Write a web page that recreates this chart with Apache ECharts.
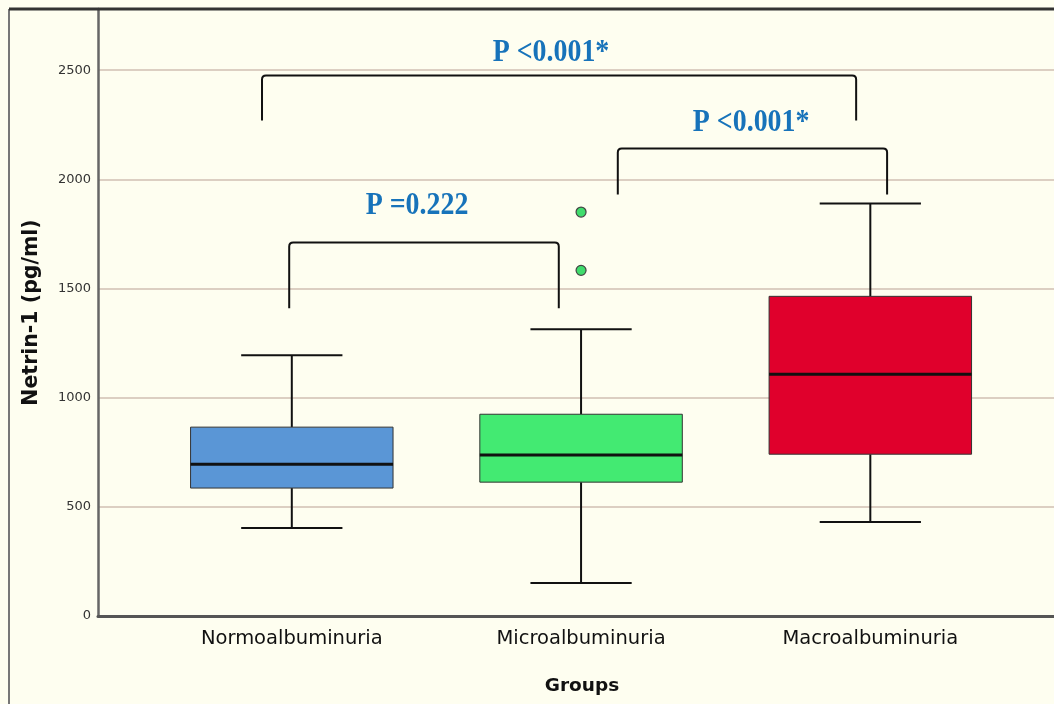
<!DOCTYPE html>
<html><head><meta charset="utf-8">
<script src="https://cdn.jsdelivr.net/npm/echarts@6/dist/echarts.min.js"></script>
<style>html,body{margin:0;padding:0;background:#FEFEF0;} #c{width:1054px;height:704px;}</style>
</head><body><div id="c"></div>
<script>
// ---- data ----
const categories = ['Normoalbuminuria', 'Microalbuminuria', 'Macroalbuminuria'];
const categoryPositions = [1, 2, 3];
const whiskerLow  = [403, 151, 430];
const q1          = [586, 613, 741];
const median      = [695, 737, 1107];
const q3          = [865, 924, 1464];
const whiskerHigh = [1194, 1313, 1889];
const outlierGroup = [2, 2];
const outlierValue = [1850, 1583];
const yTicks = [0, 500, 1000, 1500, 2000, 2500];
// significance brackets
const bracketLeft   = [0.991, 2.127, 0.897];
const bracketRight  = [1.923, 3.058, 2.951];
const bracketTop    = [1711, 2141, 2475];
const bracketBottom = [1409, 1930, 2269];
const pLabels = ['P =0.222', 'P <0.001*', 'P <0.001*'];
const pLabelX = [1.433, 2.588, 1.896];
const pLabelY = [1878, 2258, 2578];

// ---- style ----
const boxColors = ['#5A96D6', '#43EA72', '#E0002C'];
const chart = echarts.init(document.getElementById('c'), null, {renderer: 'canvas'});

function renderBox(params, api) {
  const x = api.value(0), lo = api.value(1), a = api.value(2), m = api.value(3), b = api.value(4), hi = api.value(5);
  const hw = 0.35, cw = 0.175;
  const tl = api.coord([x - hw, b]), br = api.coord([x + hw, a]);
  const c = (xx, yy) => api.coord([xx, yy]);
  const ln = (p1, p2, w) => ({type: 'line', shape: {x1: p1[0], y1: p1[1], x2: p2[0], y2: p2[1]}, style: {stroke: '#111', lineWidth: w}});
  return {
    type: 'group',
    children: [
      ln(c(x, b), c(x, hi), 2),
      ln(c(x, a), c(x, lo), 2),
      ln(c(x - cw, hi), c(x + cw, hi), 2),
      ln(c(x - cw, lo), c(x + cw, lo), 2),
      {type: 'rect', shape: {x: tl[0], y: tl[1], width: br[0] - tl[0], height: br[1] - tl[1]},
       style: {fill: boxColors[params.dataIndex], stroke: '#333', lineWidth: 1}},
      ln(c(x - hw, m), c(x + hw, m), 3)
    ]
  };
}

function renderBracket(params, api) {
  const l = api.value(0), r = api.value(1), t = api.value(2), bt = api.value(3);
  const p1 = api.coord([l, bt]), p2 = api.coord([l, t]), p3 = api.coord([r, t]), p4 = api.coord([r, bt]);
  const rad = 4;
  const d = `M${p1[0]} ${p1[1]} L${p2[0]} ${p2[1] + rad} Q${p2[0]} ${p2[1]} ${p2[0] + rad} ${p2[1]} L${p3[0] - rad} ${p3[1]} Q${p3[0]} ${p3[1]} ${p3[0]} ${p3[1] + rad} L${p4[0]} ${p4[1]}`;
  return {type: 'path', shape: {pathData: d}, style: {stroke: '#111', lineWidth: 2, fill: null}};
}

function renderLabel(params, api) {
  const p = api.coord([api.value(0), api.value(1)]);
  return {type: 'text', x: p[0], y: p[1], scaleX: 0.9,
    style: {text: pLabels[params.dataIndex], font: "bold 31px 'Liberation Serif'", fill: '#1773BA', align: 'center', verticalAlign: 'middle'}};
}

const option = {
  backgroundColor: '#FEFEF0',
  animation: false,
  grid: {left: 98, right: 0, top: 9, bottom: 88},
  xAxis: {
    type: 'value', min: 0.33, max: 3.635,
    name: 'Groups', nameLocation: 'middle', nameGap: 61,
    nameTextStyle: {fontFamily: 'DejaVu Sans', fontWeight: 'bold', fontSize: 18.5, color: '#111', padding: [0, 0, 0, 12]},
    axisLine: {show: true, lineStyle: {color: '#555', width: 3}},
    axisTick: {show: false},
    splitLine: {show: false},
    axisLabel: {customValues: categoryPositions, formatter: v => categories[Math.round(v) - 1],
      fontFamily: 'DejaVu Sans', fontSize: 19.5, color: '#111', margin: 13}
  },
  yAxis: {
    type: 'value', min: 0, max: 2780, interval: 500,
    name: 'Netrin-1 (pg/ml)', nameLocation: 'middle', nameGap: 56, nameRotate: 90,
    nameTextStyle: {fontFamily: 'DejaVu Sans', fontWeight: 'bold', fontSize: 20.5, color: '#111'},
    axisLine: {show: true, lineStyle: {color: '#666', width: 2.5}},
    axisTick: {show: false},
    axisLabel: {customValues: yTicks, formatter: v => String(v), fontFamily: 'DejaVu Sans', fontSize: 13, color: '#333', margin: 7},
    splitLine: {show: true, lineStyle: {color: '#DCCFC2', width: 2}}
  },
  graphic: [
    {type: 'line', shape: {x1: 9, y1: 9, x2: 9, y2: 704}, style: {stroke: '#777', lineWidth: 2}, z: 100},
    {type: 'line', shape: {x1: 9, y1: 9, x2: 1054, y2: 9}, style: {stroke: '#333', lineWidth: 3}, z: 100}
  ],
  series: [
    {type: 'custom', renderItem: renderBox, clip: false, encode: {x: 0, y: [1, 2, 3, 4, 5]},
     data: categoryPositions.map((x, i) => [x, whiskerLow[i], q1[i], median[i], q3[i], whiskerHigh[i]])},
    {type: 'scatter', symbol: 'circle', symbolSize: 10,
     itemStyle: {color: '#40DC6C', borderColor: '#444', borderWidth: 1.2, opacity: 1},
     data: outlierGroup.map((g, i) => [g, outlierValue[i]])},
    {type: 'custom', renderItem: renderBracket, clip: false, encode: {x: [0, 1], y: [2, 3]},
     data: bracketLeft.map((l, i) => [l, bracketRight[i], bracketTop[i], bracketBottom[i]])},
    {type: 'custom', renderItem: renderLabel, clip: false, encode: {x: 0, y: 1},
     data: pLabelX.map((x, i) => [x, pLabelY[i]])}
  ]
};
chart.setOption(option);
</script></body></html>
